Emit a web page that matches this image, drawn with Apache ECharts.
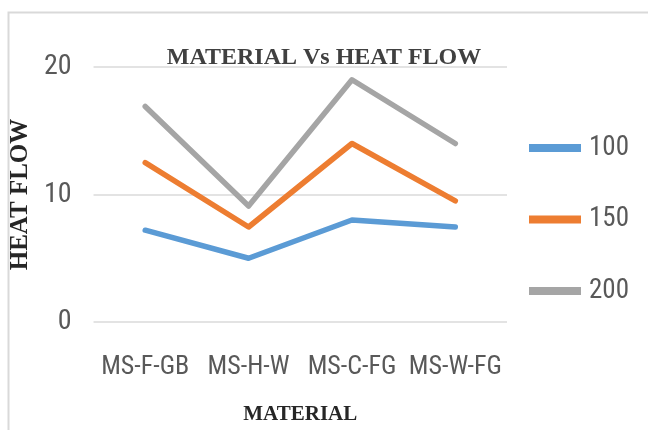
<!DOCTYPE html>
<html>
<head>
<meta charset="utf-8">
<script src="https://cdn.jsdelivr.net/npm/echarts@6/dist/echarts.min.js"></script>
<style>html,body{margin:0;padding:0;background:#fff;}#c{width:648px;height:430px;}</style>
</head>
<body>
<div id="c"></div>
<script>
const categories = ['MS-F-GB', 'MS-H-W', 'MS-C-FG', 'MS-W-FG'];
const seriesNames = ['100', '150', '200'];
const s100 = [7.2, 5.0, 8.0, 7.45];
const s150 = [12.5, 7.45, 14.0, 9.5];
const s200 = [16.9, 9.1, 19.0, 14.0];
const yTicks = [0, 10, 20];

const colors = ['#5b9bd5', '#ed7d31', '#a5a5a5'];
const narrow = '"Liberation Sans Narrow", "Roboto Condensed", "Liberation Sans", sans-serif';
const serif = '"Liberation Serif", "DejaVu Serif", serif';

const chart = echarts.init(document.getElementById('c'), null, {renderer: 'canvas'});
const mk = (name, data, i) => ({
  name: name, type: 'line', data: data, symbol: 'none',
  lineStyle: {width: 5.5, color: colors[i], cap: 'round', join: 'round'},
  itemStyle: {color: colors[i]}
});
chart.setOption({
  animation: false,
  backgroundColor: '#fff',
  color: colors,
  graphic: [{
    type: 'rect', shape: {x: 8.5, y: 12.5, width: 700, height: 500},
    style: {fill: null, stroke: '#d9d9d9', lineWidth: 2}, silent: true, z: -1
  }],
  title: {
    text: 'MATERIAL Vs HEAT FLOW', left: 'center', top: 41,
    textStyle: {fontFamily: serif, fontWeight: 'bold', fontSize: 24, color: '#404040'}
  },
  legend: {
    orient: 'vertical', left: 524, top: 129.5, itemGap: 44.5,
    itemWidth: 52, itemHeight: 8, icon: 'rect',
    lineStyle: {width: 8, cap: 'round'},
    data: seriesNames,
    textStyle: {fontFamily: narrow, fontSize: 27, color: '#595959', padding: [0, 0, 0, 3]}
  },
  grid: {left: 92, right: 141, top: 67, bottom: 108, containLabel: false},
  xAxis: {
    type: 'category', data: categories, boundaryGap: true,
    axisLine: {show: false}, axisTick: {show: false},
    axisLabel: {fontFamily: narrow, fontSize: 26, color: '#595959', margin: 32, interval: 0},
    name: 'MATERIAL', nameLocation: 'middle', nameGap: 82,
    nameTextStyle: {fontFamily: serif, fontWeight: 'bold', fontSize: 21, color: '#262626'}
  },
  yAxis: {
    type: 'value', min: yTicks[0], max: yTicks[yTicks.length - 1], interval: 10,
    axisLine: {show: false}, axisTick: {show: false},
    splitLine: {lineStyle: {color: '#e3e3e3', width: 2}},
    axisLabel: {fontFamily: narrow, fontSize: 28, color: '#595959', margin: 22},
    name: 'HEAT FLOW', nameLocation: 'middle', nameGap: 51,
    nameTextStyle: {fontFamily: serif, fontWeight: 'bold', fontSize: 25, color: '#262626'}
  },
  series: [mk(seriesNames[0], s100, 0), mk(seriesNames[1], s150, 1), mk(seriesNames[2], s200, 2)]
});
</script>
</body>
</html>
